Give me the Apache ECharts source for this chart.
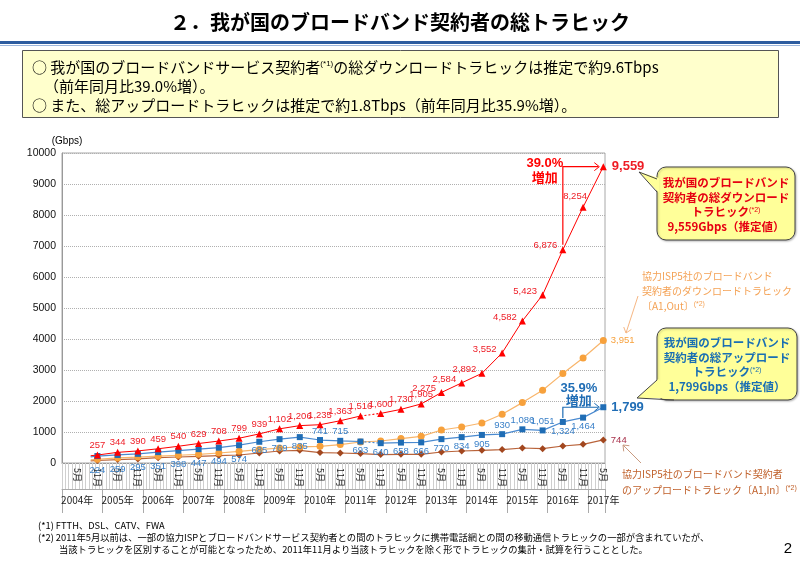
<!DOCTYPE html>
<html><head><meta charset="utf-8">
<script src="https://cdn.jsdelivr.net/npm/echarts@6/dist/echarts.min.js"></script>
<style>html,body{margin:0;padding:0;background:#fff}#c{width:800px;height:566px}</style>
</head><body><div id="c"></div>
<script>
// ---- data ----
const pointMonths = ['2004-09','2004-10','2004-11','2005-05','2005-11','2006-05','2006-11','2007-05','2007-11','2008-05','2008-11','2009-05','2009-11','2010-05','2010-11','2011-05','2011-11','2012-05','2012-11','2013-05','2013-11','2014-05','2014-11','2015-05','2015-11','2016-05','2016-11','2017-05'];
const totalDown = [235, 245, 257, 344, 390, 459, 540, 629, 708, 799, 939, 1102, 1206, 1235, 1363, 1516, 1600, 1730, 1905, 2275, 2584, 2892, 3552, 4582, 5423, 6876, 8254, 9559];
const totalUp   = [195, 210, 224, 259, 295, 351, 398, 447, 494, 574, 685, 769, 835, 741, 715, 693, 640, 658, 666, 770, 834, 905, 930, 1086, 1051, 1324, 1464, 1799];
const ispDown   = [100, 110, 120, 165, 190, 220, 250, 280, 323, 377, 432, 484, 520, 538, 593, 677, 710, 787, 861, 1065, 1161, 1290, 1571, 1948, 2345, 2884, 3387, 3951];
const ispUp     = [70, 75, 80, 110, 130, 173, 194, 216, 238, 258, 323, 387, 410, 335, 323, 303, 271, 281, 281, 355, 387, 410, 432, 484, 463, 548, 603, 744];
const yearLabels = ['2004年','2005年','2006年','2007年','2008年','2009年','2010年','2011年','2012年','2013年','2014年','2015年','2016年','2017年'];
const monthTickLabels = {'05':'5月','11':'11月'};
const breakBefore = '2011-05', breakAfter = '2011-11';

// monthly category axis 2004-01 .. 2017-05
const axisMonths = [];
for (let y = 2004; y <= 2017; y++) for (let m = 1; m <= 12; m++) { if (y === 2017 && m > 5) break; axisMonths.push(y + '-' + String(m).padStart(2, '0')); }

const JP = '"Noto Sans CJK JP", "Noto Sans", sans-serif';
const NUM = '"Liberation Sans", Arial, sans-serif';
const RED = '#ff0000', BLUE = '#1f6db5', BLUE_L = '#4a8ad0', ORANGE = '#f7a13c', ORANGE_L = '#f8b56b', BROWN = '#a2471f', BROWN_L = '#b9633a';
const fmt = v => String(v).replace(/\B(?=(\d{3})+(?!\d))/g, ',');
const lastM = pointMonths[pointMonths.length - 1];

function redLabel(m) {
  if (m === lastM) return {position: 'right', distance: 5, fontSize: 13, fontWeight: 'bold'};
  if (m < '2004-11') return {show: false};
  if (m === '2016-11') return {position: 'top', distance: 2, offset: [-8, 0]};
  if (m >= '2013-05') return {position: 'left', distance: 2, offset: [0, -4]};
  return {position: 'top', distance: 1};
}
const blueAbove = ['2010-05','2010-11','2014-11','2015-05','2015-11'];
function blueLabel(m) {
  if (m === lastM) return {position: 'right', distance: 5, fontSize: 13, fontWeight: 'bold', color: BLUE};
  if (m < '2004-11') return {show: false};
  if (m <= '2008-05') return {position: 'bottom', distance: 6};
  if (blueAbove.includes(m)) return {position: 'top', distance: 1};
  return {position: 'bottom', distance: 1};
}
function items(vals, labelFn, from, to) {
  const out = [];
  pointMonths.forEach((m, i) => {
    if (vals[i] == null) return;
    if (from && m < from) return;
    if (to && m > to) return;
    const it = {value: [m, vals[i]]};
    if (labelFn) it.label = labelFn(m);
    out.push(it);
  });
  return out;
}
function lineSeries(name, data, sym, size, col, lineCol, lw, label, z) {
  return {type: 'line', name, data, symbol: sym, symbolSize: size, z,
    itemStyle: {color: col}, lineStyle: {color: lineCol, width: lw},
    label: Object.assign({show: true, fontSize: 9.5, fontFamily: NUM, formatter: p => fmt(p.value[1])}, label),
    emphasis: {disabled: true}};
}
function dashSeries(vals, col, z) {
  const i0 = pointMonths.indexOf(breakBefore), i1 = pointMonths.indexOf(breakAfter);
  return {type: 'line', data: [[breakBefore, vals[i0]], [breakAfter, vals[i1]]], symbol: 'none', z,
    lineStyle: {color: col, width: 1.2, type: [2, 2]}, label: {show: false}, emphasis: {disabled: true}};
}

const series = [
  lineSeries('協力ISP5社 アップロード', items(ispUp, m => m === lastM ? {show: true, position: 'right', distance: 4, color: '#a8304a', fontSize: 9.5} : {show: false}), 'diamond', 7, BROWN, BROWN_L, 1.2, {show: false}, 2),
  lineSeries('協力ISP5社 ダウンロード', items(ispDown, m => m === lastM ? {show: true, position: 'right', distance: 4, color: ORANGE, fontSize: 9.5} : {show: false}), 'circle', 7, ORANGE, ORANGE_L, 1.2, {show: false}, 3),
  lineSeries('総アップロード', items(totalUp, blueLabel, null, breakBefore), 'rect', 6, BLUE, BLUE_L, 1.2, {color: '#3a80c8'}, 4),
  lineSeries('総アップロード', items(totalUp, blueLabel, breakAfter, null), 'rect', 6, BLUE, BLUE_L, 1.2, {color: '#3a80c8'}, 4),
  dashSeries(totalUp, BLUE_L, 4),
  lineSeries('総ダウンロード', items(totalDown, redLabel, null, breakBefore), 'triangle', 7, RED, RED, 1, {color: '#ee1c25'}, 5),
  lineSeries('総ダウンロード', items(totalDown, redLabel, breakAfter, null), 'triangle', 7, RED, RED, 1, {color: '#ee1c25'}, 5),
  dashSeries(totalDown, RED, 5)
];

const chart = echarts.init(document.getElementById('c'), null, {renderer: 'canvas'});
chart.setOption({
  animation: false,
  backgroundColor: '#fff',
  grid: {left: 62, right: 195, top: 153, bottom: 103, show: true, borderColor: '#a8a8a8', borderWidth: 1},
  xAxis: [
    {type: 'category', data: axisMonths, boundaryGap: true,
      axisLine: {lineStyle: {color: '#999'}},
      axisTick: {show: true, interval: 0, length: 26, lineStyle: {color: '#cfcfcf'}},
      axisLabel: {interval: (i, v) => v.endsWith('-05') || v.endsWith('-11'), rotate: -90, margin: 5, fontSize: 9, color: '#222', fontFamily: JP,
        formatter: v => monthTickLabels[v.slice(5)] || ''},
      splitLine: {show: false}},
    {type: 'category', data: axisMonths, boundaryGap: true, position: 'bottom', offset: 26,
      axisLine: {show: true, lineStyle: {color: '#aaa'}},
      axisTick: {show: true, interval: (i, v) => !!v && v.endsWith('-01'), length: 24, lineStyle: {color: '#aaa'}},
      axisLabel: {interval: (i, v) => v.endsWith('-05'), margin: 6, fontSize: 10, color: '#222', fontFamily: JP,
        formatter: v => yearLabels[+v.slice(0, 4) - 2004]},
      splitLine: {show: false}}
  ],
  yAxis: {type: 'value', min: 0, max: 10000, interval: 1000,
    axisLine: {show: true, lineStyle: {color: '#999'}}, axisTick: {show: false},
    axisLabel: {fontSize: 10.5, color: '#111', margin: 6, fontFamily: NUM, formatter: v => String(v)},
    splitLine: {lineStyle: {color: '#b0b0b0', type: 'dotted'}}},
  series
});

const px = (m, v) => chart.convertToPixel({xAxisIndex: 0, yAxisIndex: 0}, [axisMonths.indexOf(m), v]);
const iPrev = pointMonths.indexOf('2016-05'), iLast = pointMonths.length - 1;
const rP = px('2016-05', totalDown[iPrev]), rL = px(lastM, totalDown[iLast]);
const bP = px('2016-05', totalUp[iPrev]), bL = px(lastM, totalUp[iLast]);

function txt(text, x, y, o) {
  return {type: 'text', z: 100, style: Object.assign({text, x, y, fontSize: 11, fontFamily: JP, fill: '#000', align: 'left', verticalAlign: 'middle'}, o || {})};
}
function arrowHead(tip, from, col) {
  const dx = tip[0] - from[0], dy = tip[1] - from[1], L = Math.hypot(dx, dy), ux = dx / L, uy = dy / L, s = 5;
  return {type: 'polyline', z: 100, shape: {points: [[tip[0] - ux * s - uy * s * 0.8, tip[1] - uy * s + ux * s * 0.8], tip, [tip[0] - ux * s + uy * s * 0.8, tip[1] - uy * s - ux * s * 0.8]]}, style: {stroke: col, lineWidth: 1, fill: null}};
}
function bubble(x, y, w, h, fillPts, edgePts) {
  return [
    {type: 'rect', z: 90, shape: {x, y, width: w, height: h, r: 9}, style: {fill: '#ffff99', stroke: '#444', lineWidth: 1, shadowBlur: 2, shadowColor: 'rgba(0,0,0,0.25)', shadowOffsetX: 1, shadowOffsetY: 1}},
    {type: 'polygon', z: 91, shape: {points: fillPts}, style: {fill: '#ffff99'}},
    {type: 'polyline', z: 92, shape: {points: edgePts}, style: {stroke: '#444', lineWidth: 1, fill: null}}
  ];
}
const supRich = col => ({s: {fontSize: 7, verticalAlign: 'top', fill: col, fontFamily: NUM}});

const g = [];
// title
g.push(txt('２．我が国のブロードバンド契約者の総トラヒック', 400, 22, {align: 'center', fontSize: 20, fontWeight: 'bold'}));
g.push({type: 'rect', shape: {x: 0, y: 41, width: 800, height: 3}, style: {fill: '#2d5c9f'}});
g.push({type: 'rect', shape: {x: 0, y: 45, width: 800, height: 1}, style: {fill: '#9db6dc'}});
// summary box
g.push({type: 'rect', shape: {x: 22.5, y: 50.5, width: 756, height: 67}, style: {fill: '#ffffcc', stroke: '#555', lineWidth: 1}});
g.push(txt('○ 我が国のブロードバンドサービス契約者{s|(*1)}の総ダウンロードトラヒックは推定で約9.6Tbps', 32, 67, {fontSize: 15, rich: {s: {fontSize: 8, verticalAlign: 'top', fill: '#000', fontFamily: NUM}}}));
g.push(txt('（前年同月比39.0%増）。', 44, 86, {fontSize: 15}));
g.push(txt('○ また、総アップロードトラヒックは推定で約1.8Tbps（前年同月比35.9%増）。', 32, 105, {fontSize: 15}));
// axis unit
g.push(txt('(Gbps)', 67, 141, {align: 'center', fontSize: 10, fontFamily: NUM}));
// red bracket
g.push({type: 'polyline', z: 100, shape: {points: [[rP[0], rP[1] - 5], [rP[0], rL[1]], [rL[0] - 5, rL[1]]]}, style: {stroke: RED, lineWidth: 1.2, fill: null}});
g.push(arrowHead([rL[0] - 4, rL[1]], [rP[0], rL[1]], RED));
g.push(txt('39.0%', rP[0] - 18, rL[1] - 3, {align: 'center', fontSize: 13, fontWeight: 'bold', fill: RED, fontFamily: NUM}));
g.push(txt('増加', rP[0] - 18, rL[1] + 10, {align: 'center', fontSize: 13, fontWeight: 'bold', fill: RED}));
// blue bracket
g.push({type: 'polyline', z: 100, shape: {points: [[bP[0], bP[1] - 4], [bP[0], bL[1]], [bL[0] - 5, bL[1]]]}, style: {stroke: BLUE, lineWidth: 1.2, fill: null}});
g.push(arrowHead([bL[0] - 4, bL[1]], [bP[0], bL[1]], BLUE));
g.push(txt('35.9%', bP[0] + 16, bL[1] - 19, {align: 'center', fontSize: 13, fontWeight: 'bold', fill: BLUE, fontFamily: NUM}));
g.push(txt('増加', bP[0] + 16, bL[1] - 7, {align: 'center', fontSize: 13, fontWeight: 'bold', fill: BLUE}));
// callout 1 (download)
g.push(...bubble(657, 167, 138, 73, [[659, 178], [639, 172], [659, 193]], [[657, 179], [639, 172], [657, 192]]));
[['我が国のブロードバンド', 183], ['契約者の総ダウンロード', 198], ['トラヒック{s|(*2)}', 212]].forEach(([t, y]) => g.push(txt(t, 726, y, {align: 'center', fontSize: 11.5, fontWeight: 'bold', fill: '#e60012', rich: supRich('#e60012')})));
g.push(txt('9,559Gbps（推定値）', 726, 227, {align: 'center', fontSize: 11.5, fontWeight: 'bold', fill: '#e60012'}));
// callout 2 (upload)
g.push(...bubble(657, 328, 140, 72, [[658.5, 379], [637, 398], [676, 398.5], [668, 388]], [[657, 380], [637, 398], [674, 400]]));
[['我が国のブロードバンド', 343], ['契約者の総アップロード', 358], ['トラヒック{s|(*2)}', 372]].forEach(([t, y]) => g.push(txt(t, 727, y, {align: 'center', fontSize: 11.5, fontWeight: 'bold', fill: '#1a6fb3', rich: supRich('#1a6fb3')})));
g.push(txt('1,799Gbps（推定値）', 727, 387, {align: 'center', fontSize: 11.5, fontWeight: 'bold', fill: '#1a6fb3'}));
// orange note
const OT = '#f4a255';
[['協力ISP5社のブロードバンド', 276], ['契約者のダウンロードトラヒック', 291], ['〔A1,Out〕{s|(*2)}', 306]].forEach(([t, y]) => g.push(txt(t, 642, y, {fontSize: 10, fill: OT, rich: supRich(OT)})));
g.push({type: 'line', z: 100, shape: {x1: 638, y1: 296, x2: 626, y2: 333}, style: {stroke: '#f6b784', lineWidth: 1}});
g.push(arrowHead([626, 333], [638, 296], '#f6b784'));
// brown note
const BT = '#c0602a';
[['協力ISP5社のブロードバンド契約者', 474], ['のアップロードトラヒック〔A1,In〕{s|(*2)}', 490]].forEach(([t, y]) => g.push(txt(t, 622, y, {fontSize: 10, fill: BT, rich: supRich(BT)})));
g.push({type: 'line', z: 100, shape: {x1: 641, y1: 463, x2: 623, y2: 445}, style: {stroke: '#c89a80', lineWidth: 1}});
g.push(arrowHead([623, 445], [641, 463], '#c89a80'));
// footnotes
g.push(txt('(*1) FTTH、DSL、CATV、FWA', 38, 525, {fontSize: 9.3}));
g.push(txt('(*2) 2011年5月以前は、一部の協力ISPとブロードバンドサービス契約者との間のトラヒックに携帯電話網との間の移動通信トラヒックの一部が含まれていたが、', 38, 537, {fontSize: 9.3}));
g.push(txt('当該トラヒックを区別することが可能となったため、2011年11月より当該トラヒックを除く形でトラヒックの集計・試算を行うこととした。', 59, 549, {fontSize: 9.3}));
g.push(txt('2', 788, 549, {align: 'center', fontSize: 15, fontFamily: NUM}));

chart.setOption({graphic: g});
</script></body></html>
